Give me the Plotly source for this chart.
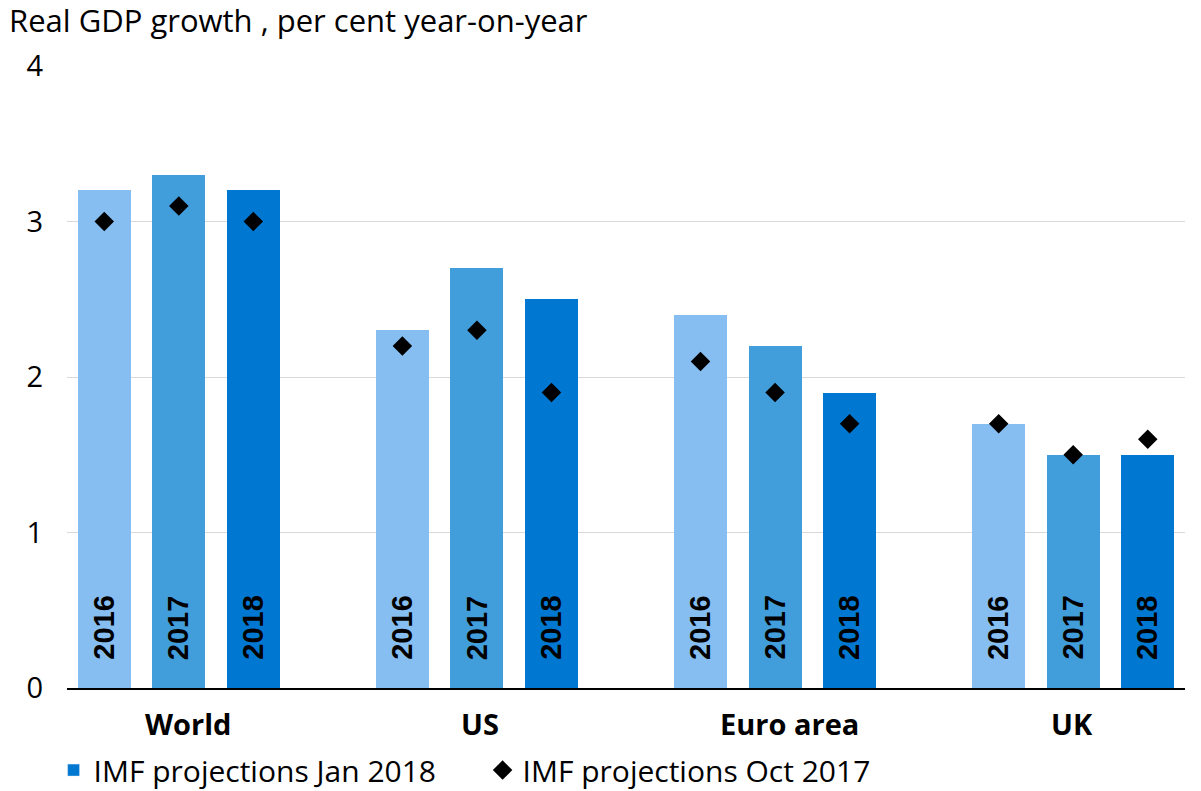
import plotly.graph_objects as go

regions = ["World", "US", "Euro area", "UK"]
years = ["2016", "2017", "2018"]
jan2018 = [[3.2, 3.3, 3.2], [2.3, 2.7, 2.5], [2.4, 2.2, 1.9], [1.7, 1.5, 1.5]]
oct2017 = [[3.0, 3.1, 3.0], [2.2, 2.3, 1.9], [2.1, 1.9, 1.7], [1.7, 1.5, 1.6]]
year_colors = ["#86BEF2", "#429DDB", "#0078D2"]
yticks = [0, 1, 2, 3, 4]
label_xshift = [9, 3, 14, -1]

FONT = "Open Sans"
fig = go.Figure()

xs, ys, cols, ds = [], [], [], []
for g, reg in enumerate(regions):
    for j, yr in enumerate(years):
        xs.append(4 * g + j)
        ys.append(jan2018[g][j])
        cols.append(year_colors[j])
        ds.append(oct2017[g][j])

fig.add_trace(go.Bar(x=xs, y=ys, marker=dict(color=cols, line=dict(width=0)),
                     width=0.71, showlegend=False, hoverinfo="skip"))
fig.add_trace(go.Bar(x=[None], y=[None], marker=dict(color="#0078D2"),
                     name="IMF projections Jan 2018"))
fig.add_trace(go.Scatter(x=xs, y=ds, mode="markers",
                         marker=dict(symbol="diamond", size=15, color="black",
                                     line=dict(width=0)),
                         name="IMF projections Oct 2017"))

annotations = []
for g, reg in enumerate(regions):
    annotations.append(dict(x=4 * g + 1, y=0, xref="x", yref="y", text="<b>" + reg + "</b>",
                            showarrow=False, yanchor="middle", yshift=-35,
                            xshift=label_xshift[g],
                            font=dict(family=FONT, size=29, color="black")))
    for j, yr in enumerate(years):
        annotations.append(dict(x=4 * g + j, y=0.39, xref="x", yref="y", text="<b>" + yr + "</b>",
                                showarrow=False, textangle=-90, yanchor="middle",
                                font=dict(family="Liberation Sans", size=29, color="black")))
annotations.append(dict(x=0, y=1, xref="paper", yref="paper", xanchor="left", yanchor="middle",
                        text="Real GDP growth , per cent year-on-year", showarrow=False,
                        font=dict(family=FONT, size=31, color="black"), xshift=-60, yshift=46))

fig.update_layout(
    width=1201, height=791,
    margin=dict(l=67, r=16, t=66, b=103, autoexpand=False),
    plot_bgcolor="white", paper_bgcolor="white",
    font=dict(family=FONT, size=30, color="black"),
    bargap=0,
    annotations=annotations,
    legend=dict(orientation="h", x=-0.012, y=-0.132, xanchor="left", yanchor="middle",
                font=dict(family=FONT, size=30, color="black"), entrywidth=384,
                itemwidth=30),
    xaxis=dict(range=[-0.5, 14.5], tickvals=[-0.5, 14.5], ticktext=["", ""],
               ticks="inside", ticklen=9, tickcolor="black", tickwidth=1.5,
               showline=True, linecolor="black", linewidth=1.5, showgrid=False,
               zeroline=False),
    yaxis=dict(range=[0, 4], tickvals=yticks, showgrid=True, gridcolor="#D9D9D9",
               gridwidth=1, zeroline=False, ticks="", ticklabelstandoff=23,
               tickfont=dict(family=FONT, size=29, color="black")),
)

fig.write_html("out.html")
